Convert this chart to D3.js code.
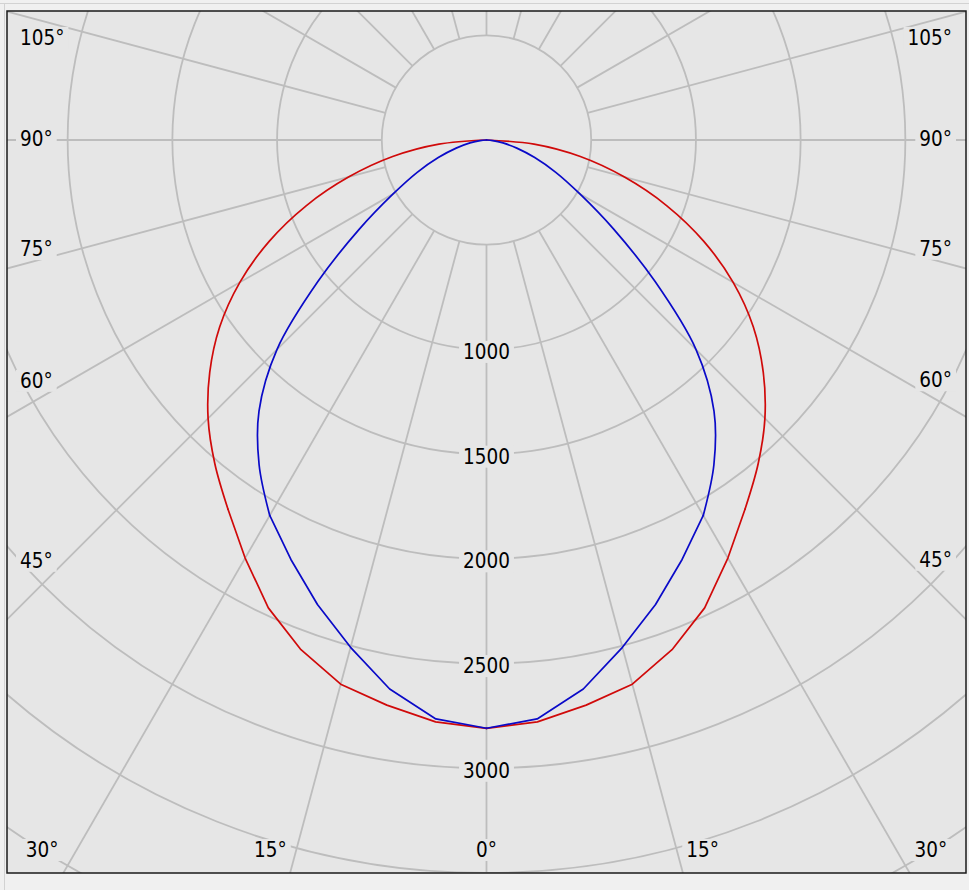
<!DOCTYPE html>
<html>
<head>
<meta charset="utf-8">
<script src="https://cdn.jsdelivr.net/npm/d3@7"></script>
<style>
  html, body { margin: 0; padding: 0; background: #f0f0f0; }
  svg { display: block; }
  text { font-family: "DejaVu Sans Condensed", "DejaVu Sans", Verdana, sans-serif; font-stretch: condensed; }
</style>
</head>
<body>
<svg id="chart" width="969" height="890"></svg>
<script>
// ---- data (luminous intensity, cd) ----
const gammaAngles = [0, 5, 10, 15, 20, 25, 30, 35, 40, 45, 50, 55, 60, 65, 70, 75, 80, 85, 90];
const redValues   = [2809, 2789, 2740, 2690, 2590, 2465, 2305, 2152, 2018, 1880, 1725, 1555, 1360, 1145, 915, 680, 455, 228, 0];
const blueValues  = [2809, 2775, 2662, 2508, 2360, 2210, 2070, 1893, 1690, 1415, 1050, 740, 515, 365, 245, 150, 80, 30, 0];
const ringValues  = [500, 1000, 1500, 2000, 2500, 3000, 3500, 4000];
const ringLabels  = [1000, 1500, 2000, 2500, 3000];
const spokeAngles = d3.range(0, 360, 15);
const angleLabels = [0, 15, 30, 45, 60, 75, 90, 105];

// ---- layout ----
const W = 969, H = 890;
const frame = { left: 7, top: 11, right: 966, bottom: 873 };
const cx = (frame.left + frame.right) / 2;
const cy = 140;
const plotBg = "#e6e6e6", gridColor = "#bdbdbd";
const fontSize = 20.5;

const svg = d3.select("#chart");
svg.append("rect").attr("width", W).attr("height", H).attr("fill", "#f0f0f0");
svg.append("line").attr("x1", 0).attr("x2", W).attr("y1", 3.5).attr("y2", 3.5).attr("stroke", "#d2d2d2");
svg.append("line").attr("x1", 4.5).attr("x2", 4.5).attr("y1", 3.5).attr("y2", H).attr("stroke", "#d2d2d2");

svg.append("defs").append("clipPath").attr("id", "clip")
  .append("rect").attr("x", frame.left).attr("y", frame.top)
  .attr("width", frame.right - frame.left).attr("height", frame.bottom - frame.top);

svg.append("rect").attr("x", frame.left).attr("y", frame.top)
  .attr("width", frame.right - frame.left).attr("height", frame.bottom - frame.top)
  .attr("fill", plotBg);

const r = d3.scaleLinear().domain([0, 3500]).range([0, frame.bottom - cy]);
const toRad = d => d * Math.PI / 180;

const g = svg.append("g").attr("clip-path", "url(#clip)");
const center = g.append("g").attr("transform", `translate(${cx},${cy})`);

// rings
center.selectAll("circle.ring").data(ringValues).join("circle")
  .attr("class", "ring").attr("r", d => r(d))
  .attr("fill", "none").attr("stroke", gridColor).attr("stroke-width", 1.8);

// spokes (gamma measured from downward vertical)
center.selectAll("line.spoke").data(spokeAngles).join("line")
  .attr("class", "spoke")
  .attr("x1", d => r(500) * Math.sin(toRad(d)))
  .attr("y1", d => r(500) * Math.cos(toRad(d)))
  .attr("x2", d => r(6000) * Math.sin(toRad(d)))
  .attr("y2", d => r(6000) * Math.cos(toRad(d)))
  .attr("stroke", gridColor).attr("stroke-width", 1.8);

// helper: text with background box
function labelWithBg(parent, x, y, txt, anchor) {
  const grp = parent.append("g");
  const t = grp.append("text").attr("x", x).attr("y", y)
    .attr("text-anchor", anchor).attr("dominant-baseline", "central")
    .attr("font-size", fontSize).attr("fill", "#000").text(txt);
  const bb = t.node().getBBox();
  grp.insert("rect", "text").attr("x", bb.x - 4).attr("y", bb.y + 1)
    .attr("width", bb.width + 8).attr("height", bb.height - 2).attr("fill", plotBg);
  return { grp, t, bb };
}

// ring labels
const labelLayer = g.append("g");
ringLabels.forEach(v => labelWithBg(labelLayer, cx, cy + r(v) + 2.5, String(v), "middle"));

// curves: straight segments near nadir, smooth towards the horizontal
const lineStraight = d3.lineRadial()
  .angle(d => Math.PI - toRad(d.a))
  .radius(d => r(d.v))
  .curve(d3.curveLinear);
const lineSmooth = d3.lineRadial()
  .angle(d => Math.PI - toRad(d.a))
  .radius(d => r(d.v))
  .curve(d3.curveCatmullRom.alpha(0.5));

function drawSeries(vals, split, color) {
  const pts = gammaAngles.map((a, i) => ({ a: a, v: vals[i] }));
  const lower = pts.filter(p => p.a <= split);
  const upper = pts.filter(p => p.a >= split);
  [-1, 1].forEach(s => {
    const m = p => ({ a: s * p.a, v: p.v });
    center.append("path").datum(lower.map(m)).attr("d", lineStraight)
      .attr("fill", "none").attr("stroke", color).attr("stroke-width", 1.7)
      .attr("stroke-linejoin", "round").attr("stroke-linecap", "round");
    center.append("path").datum(upper.map(m)).attr("d", lineSmooth)
      .attr("fill", "none").attr("stroke", color).attr("stroke-width", 1.7)
      .attr("stroke-linejoin", "round").attr("stroke-linecap", "round");
  });
}
drawSeries(redValues, 35, "#d00a0a");
drawSeries(blueValues, 30, "#0a0ac8");

// angle labels
const inset = 13;
angleLabels.forEach(a => {
  const sides = a === 0 ? [0] : [-1, 1];
  sides.forEach(s => {
    const txt = a + "°";
    if (a >= 45) {
      const x0 = s < 0 ? frame.left + inset : frame.right - inset - 1;
      const lab = labelWithBg(labelLayer, x0, cy, txt, s < 0 ? "start" : "end");
      const w = lab.bb.width;
      const d = s < 0 ? cx - (x0 + w + 2) : (x0 - w - 2) - cx;
      const cot = Math.cos(toRad(a)) / Math.sin(toRad(a));
      const off = Math.abs(cot) < 1e-6 ? 1 : Math.sign(cot) * (5 + 6 * Math.abs(cot));
      const y = Math.max(frame.top + 27, cy + d * cot - off);
      lab.grp.attr("transform", `translate(0,${y - cy})`);
    } else {
      const y = 850;
      if (a === 0) {
        labelWithBg(labelLayer, cx, y, txt, "middle");
      } else {
        const lab = labelWithBg(labelLayer, 0, y, txt, "middle");
        const w = lab.bb.width;
        const xc = cx + s * (738 * Math.tan(toRad(a)) + w / 2 + 2);
        lab.grp.attr("transform", `translate(${xc},0)`);
      }
    }
  });
});

// frame
svg.append("rect").attr("x", frame.left).attr("y", frame.top)
  .attr("width", frame.right - frame.left).attr("height", frame.bottom - frame.top)
  .attr("fill", "none").attr("stroke", "#1a1a1a").attr("stroke-width", 1.5);
</script>
</body>
</html>
